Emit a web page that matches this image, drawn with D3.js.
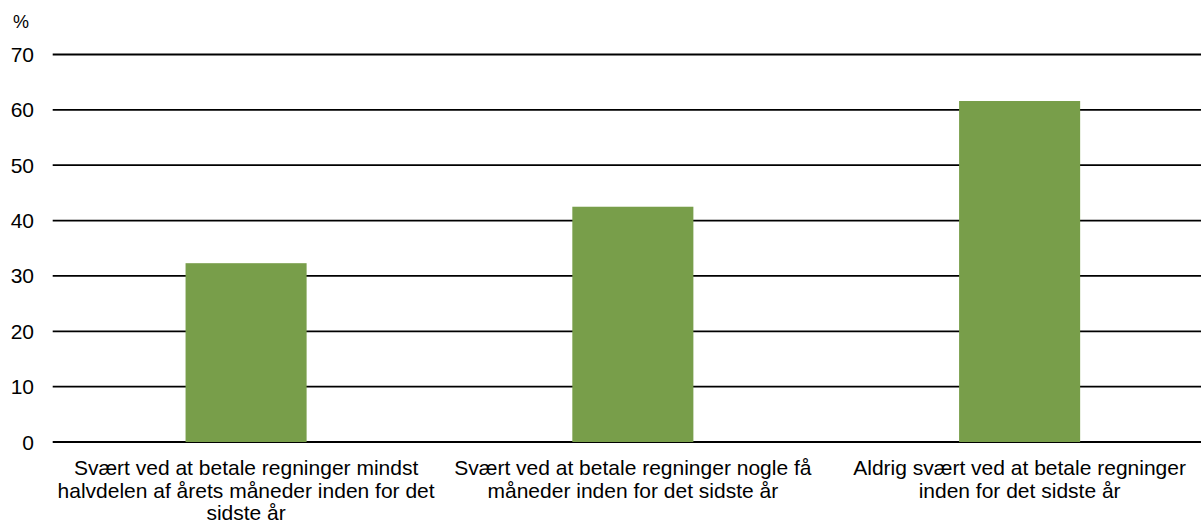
<!DOCTYPE html>
<html>
<head>
<meta charset="utf-8">
<script src="https://cdn.jsdelivr.net/npm/d3@7"></script>
<style>
  body { margin: 0; background: #fff; }
  svg { display: block; font-family: Arial, "Liberation Sans", sans-serif; }
</style>
</head>
<body>
<svg id="chart" width="1201" height="524"></svg>
<script>
// Chart data
const categories = [
    ["Svært ved at betale regninger mindst", "halvdelen af årets måneder inden for det", "sidste år"],
    ["Svært ved at betale regninger nogle få", "måneder inden for det sidste år"],
    ["Aldrig svært ved at betale regninger", "inden for det sidste år"]
];
const values = [32.3, 42.5, 61.6];
const yTicks = [0, 10, 20, 30, 40, 50, 60, 70];
const unitLabel = "%";

const width = 1201;
const height = 524;
const svg = d3.select("#chart");

// Plot area (right side runs past the window, like the original)
const plotLeft = 52.7, plotRight = 1213, plotTop = 54.5, plotBottom = 442;

const x = d3.scaleBand()
    .domain(d3.range(categories.length))
    .range([plotLeft, plotRight]);

const y = d3.scaleLinear()
    .domain([0, 70])
    .range([plotBottom, plotTop]);

const barWidth = x.bandwidth() * 0.313;

// Gridlines
svg.append("g")
    .selectAll("line")
    .data(yTicks)
    .join("line")
    .attr("x1", plotLeft)
    .attr("x2", width)
    .attr("y1", d => y(d))
    .attr("y2", d => y(d))
    .attr("stroke", "#000")
    .attr("stroke-width", 1.8);

// Y tick labels
svg.append("g")
    .selectAll("text")
    .data(yTicks)
    .join("text")
    .attr("x", 34)
    .attr("y", d => y(d))
    .attr("dy", "0.36em")
    .attr("text-anchor", "end")
    .attr("font-size", 21)
    .attr("fill", "#000")
    .text(d => d);

svg.append("text")
    .attr("x", 13)
    .attr("y", 28)
    .attr("font-size", 18)
    .text(unitLabel);

// Bars
svg.append("g")
    .selectAll("rect")
    .data(values)
    .join("rect")
    .attr("x", (d, i) => x(i) + x.bandwidth() / 2 - barWidth / 2)
    .attr("y", d => y(d))
    .attr("width", barWidth)
    .attr("height", d => y(0) - y(d))
    .attr("fill", "#789e4a");

// Category labels
const labels = svg.append("g")
    .selectAll("text")
    .data(categories)
    .join("text")
    .attr("text-anchor", "middle")
    .attr("font-size", 21)
    .attr("fill", "#000");

labels.selectAll("tspan")
    .data((d, i) => d.map(line => ({ line, i })))
    .join("tspan")
    .attr("x", d => x(d.i) + x.bandwidth() / 2)
    .attr("y", (d, j) => 475 + j * 22.5)
    .text(d => d.line);
</script>
</body>
</html>
